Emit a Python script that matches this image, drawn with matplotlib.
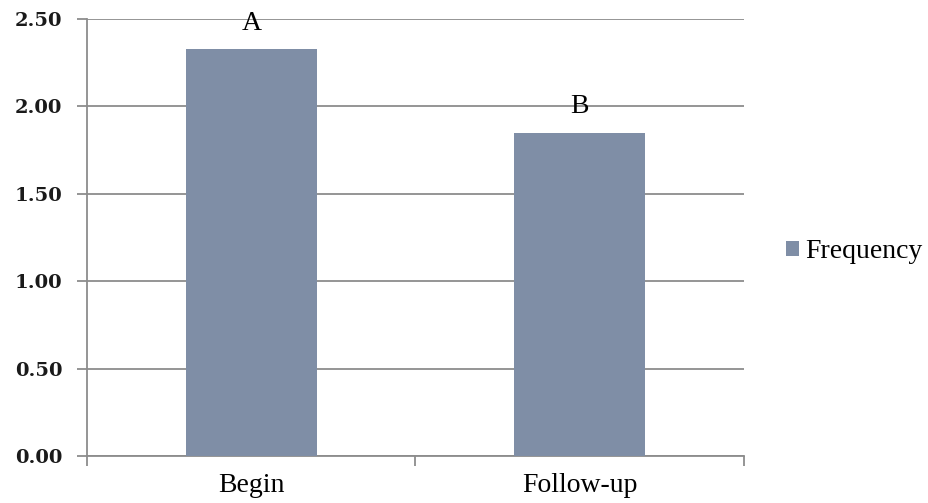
import matplotlib
matplotlib.use("Agg")
import matplotlib.pyplot as plt
from matplotlib.ticker import FixedLocator, NullFormatter
import numpy as np

categories = ["Begin", "Follow-up"]
values = [2.33, 1.85]
letters = ["A", "B"]
series_name = "Frequency"
yticks = [0.0, 0.5, 1.0, 1.5, 2.0, 2.5]

bar_color = "#7f8ea6"
grid_color = "#8c8c8c"

fig = plt.figure(figsize=(9.29, 5.03), dpi=100)
ax = fig.add_axes([87/929, (503-456)/503, (744-87)/929, (456-19)/503])

x = np.arange(len(categories))
bars = ax.bar(x, values, width=0.4, color=bar_color, label=series_name, zorder=3)

ax.set_xlim(-0.5, len(categories) - 0.5)
ax.set_ylim(0, 2.5)
ax.set_yticks(yticks)
ax.set_yticklabels([f"{v:.2f}" for v in yticks], fontfamily="DejaVu Serif",
                   fontsize=14, fontweight="bold", color="#1a1a1a")
ax.yaxis.grid(True, color=grid_color, linewidth=1.3, zorder=0)

ax.set_xticks(x)
ax.set_xticklabels(categories, fontfamily="Liberation Serif", fontsize=20)
ax.tick_params(axis="x", which="major", length=0, pad=12)
ax.xaxis.set_minor_locator(FixedLocator([-0.5, 0.5, 1.5]))
ax.xaxis.set_minor_formatter(NullFormatter())
ax.tick_params(axis="x", which="minor", length=7.2, width=1.3, color=grid_color, direction="out")
ax.tick_params(axis="y", which="major", length=7.2, width=1.3, color=grid_color, direction="out", pad=10.5)

for s in ["top", "right"]:
    ax.spines[s].set_visible(False)
for s in ["left", "bottom"]:
    ax.spines[s].set_color(grid_color)
    ax.spines[s].set_linewidth(1.3)

for xi, v, t in zip(x, values, letters):
    ax.annotate(t, (xi, v), xytext=(0, 18.5), textcoords="offset points",
                ha="center", va="center", fontfamily="Liberation Serif", fontsize=20)

leg = fig.legend(handles=[bars], labels=[series_name], loc="center left",
                 bbox_to_anchor=(786/929, 1 - 252/503), frameon=False,
                 prop={"family": "Liberation Serif", "size": 20},
                 handlelength=0.47, handleheight=0.47, handletextpad=0.22,
                 borderaxespad=0, borderpad=0)

fig.savefig("out.png", dpi=100)
